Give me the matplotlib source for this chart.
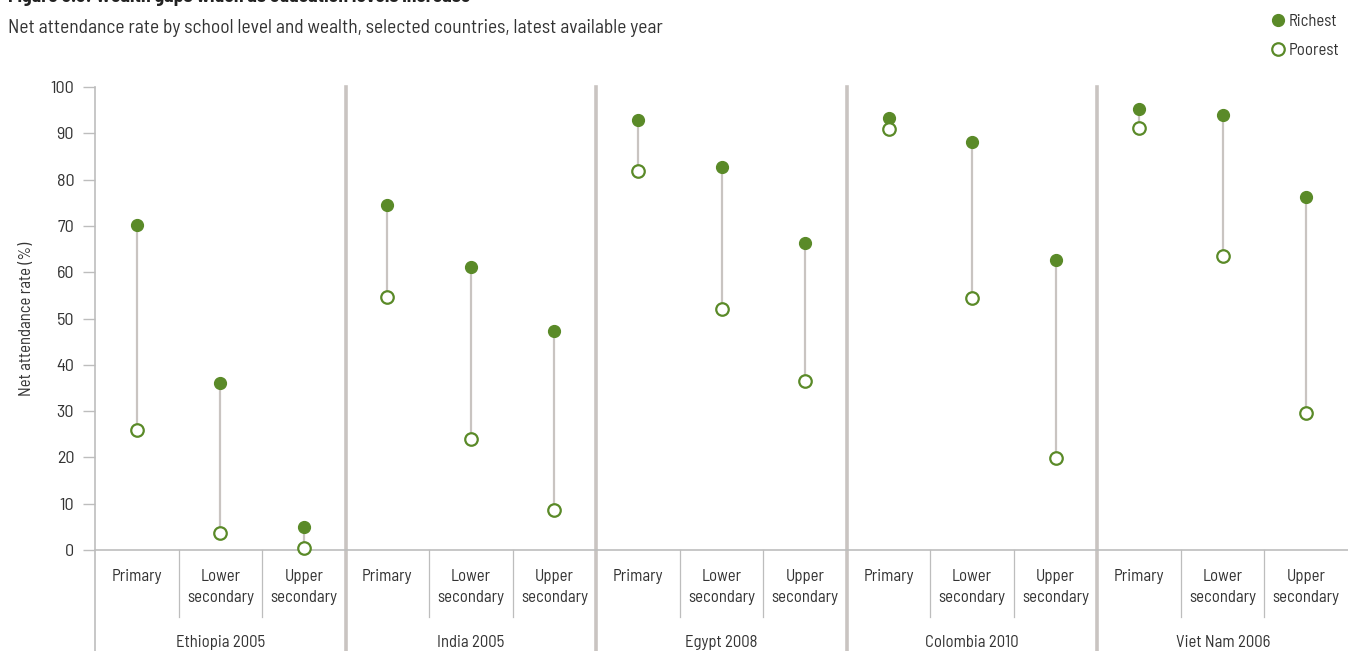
import matplotlib
matplotlib.use('Agg')
import matplotlib.pyplot as plt
from matplotlib.lines import Line2D

plt.rcParams['font.family'] = ['Barlow Semi Condensed', 'DejaVu Sans']

countries = ['Ethiopia 2005', 'India 2005', 'Egypt 2008', 'Colombia 2010', 'Viet Nam 2006']
levels = ['Primary', 'Lower\nsecondary', 'Upper\nsecondary']

# net attendance rate (%) per country, in level order
richest = [
    [70.2, 36.1, 5.0],
    [74.5, 61.1, 47.3],
    [92.9, 82.7, 66.3],
    [93.3, 88.1, 62.6],
    [95.2, 94.0, 76.2],
]
poorest = [
    [25.9, 3.7, 0.4],
    [54.6, 24.0, 8.6],
    [81.9, 52.1, 36.5],
    [90.9, 54.4, 19.9],
    [91.1, 63.5, 29.6],
]

green = '#5a8a28'
stem = '#c9c4c1'
axis_grey = '#bdbdbd'
text_col = '#333333'

fig = plt.figure(figsize=(13.48, 6.51), dpi=100)
ax = fig.add_axes([95 / 1348, 1 - 550 / 651, 1 - 95 / 1348, (550 - 87) / 651])

n_lev = len(levels)
for g, country in enumerate(countries):
    for j in range(n_lev):
        x = g * n_lev + j + 0.5
        r = richest[g][j]
        p = poorest[g][j]
        ax.plot([x, x], [p, r], color=stem, lw=1.6, zorder=1)
        ax.plot(x, r, 'o', color=green, ms=8.5, mec=green, zorder=3, clip_on=False)
        ax.plot(x, p, 'o', mfc='white', mec=green, mew=1.6, ms=9, zorder=3, clip_on=False)
        # level label and thin separator below the axis
        ax.text(x, -0.042, levels[j], transform=ax.get_xaxis_transform(), ha='center', va='top',
                fontsize=12, color=text_col, linespacing=1.45)
        if j > 0:
            ax.plot([x - 0.5, x - 0.5], [0, -0.145], transform=ax.get_xaxis_transform(),
                    color=axis_grey, lw=0.9, clip_on=False)
    ax.text(g * n_lev + 1.5, -0.199, country, transform=ax.get_xaxis_transform(),
            ha='center', va='center', fontsize=12, color=text_col)
    if g > 0:
        ax.plot([g * n_lev, g * n_lev], [1, -0.23], transform=ax.get_xaxis_transform(),
                color=stem, lw=2.6, clip_on=False, zorder=0)

# left axis running down through the category labels
ax.plot([0, 0], [1, -0.23], transform=ax.get_xaxis_transform(), color=axis_grey, lw=1.2, clip_on=False)

ax.set_xlim(0, len(countries) * n_lev)
ax.set_ylim(0, 100)
ax.set_yticks(range(0, 101, 10))
ax.set_xticks([])
for s in ['top', 'right', 'left']:
    ax.spines[s].set_visible(False)
ax.spines['bottom'].set_color(axis_grey)
ax.spines['bottom'].set_linewidth(1.2)
ax.tick_params(axis='y', length=9, width=1, color=axis_grey, labelsize=13, labelcolor=text_col, pad=6)
ax.set_ylabel('Net attendance rate (%)', fontsize=12, color=text_col, labelpad=12)

fig.text(8 / 1348, 1 - 6 / 651, 'Figure 3.3: Wealth gaps widen as education levels increase',
         fontsize=14, fontweight='bold', color='#222222', va='bottom')
fig.text(8 / 1348, 1 - 28 / 651, 'Net attendance rate by school level and wealth, selected countries, latest available year',
         fontsize=14, color=text_col, va='center')

handles = [
    Line2D([], [], ls='none', marker='o', color=green, ms=8.5),
    Line2D([], [], ls='none', marker='o', mfc='white', mec=green, mew=1.6, ms=9),
]
fig.legend(handles, ['Richest', 'Poorest'], loc='upper right', bbox_to_anchor=(1.0, 0.992),
           frameon=False, fontsize=12, handlelength=0.6, handletextpad=0.35, labelspacing=0.85,
           labelcolor=text_col, borderaxespad=0.1)

fig.savefig('out.png', dpi=100)
